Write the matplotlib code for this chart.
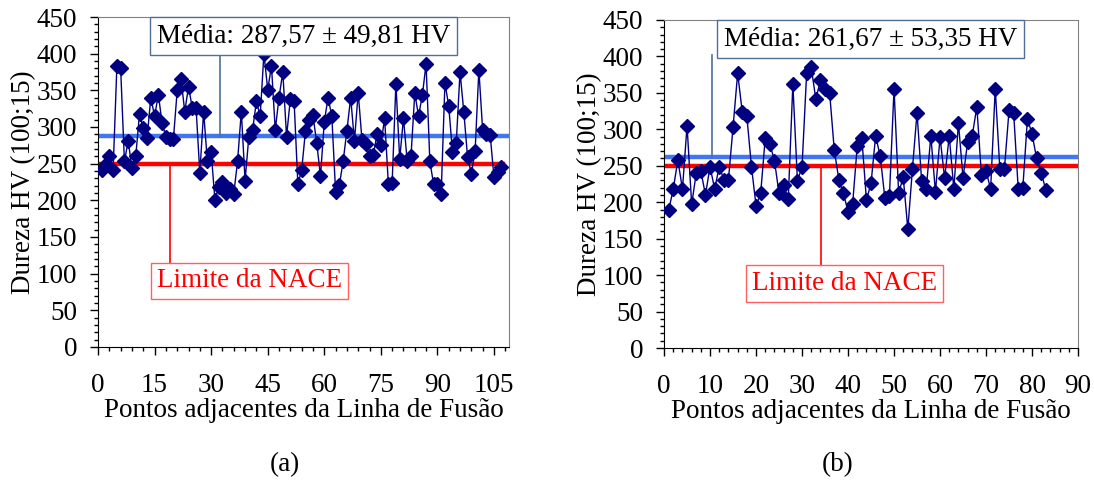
import matplotlib
matplotlib.use("Agg")
import matplotlib.pyplot as plt
from matplotlib.ticker import MultipleLocator

plt.rcParams["font.family"] = ["Liberation Serif", "DejaVu Serif"]

# Panel (a) hardness readings, points 1..107
hv_a = [241, 250, 260, 241, 383, 380, 253, 281, 244, 260,
        318, 298, 285, 340, 315, 344, 305, 287, 284, 284,
        350, 366, 321, 355, 326, 326, 237, 321, 253, 266,
        201, 218, 225, 210, 216, 209, 253, 321, 227, 287,
        296, 335, 315, 400, 351, 383, 296, 340, 375, 287,
        338, 335, 222, 241, 294, 310, 316, 278, 233, 307,
        340, 315, 212, 221, 253, 295, 340, 281, 347, 282,
        277, 260, 262, 290, 275, 312, 222, 224, 359, 256,
        312, 253, 260, 346, 315, 343, 386, 253, 222, 222,
        209, 360, 329, 266, 278, 375, 321, 259, 236, 267,
        378, 296, 290, 289, 232, 239, 245]

# Panel (b) hardness readings, points 1..83
hv_b = [189, 218, 258, 218, 305, 197, 240, 243, 210, 249,
        218, 249, 231, 231, 303, 377, 324, 318, 249, 195,
        212, 288, 280, 257, 212, 224, 204, 362, 229, 249,
        377, 385, 341, 368, 355, 350, 272, 231, 212, 187,
        198, 277, 288, 203, 226, 291, 263, 206, 209, 356,
        213, 234, 163, 246, 323, 229, 218, 291, 214, 289,
        233, 291, 218, 309, 233, 283, 291, 331, 237, 243,
        218, 356, 246, 246, 326, 323, 218, 220, 314, 294,
        260, 240, 217]

mean_a, sd_a = 287.57, 49.81
mean_b, sd_b = 261.67, 53.35
nace_limit = 250

fig = plt.figure(figsize=(10.94, 4.83), dpi=100)
ax_a = fig.add_axes([0.0896, 0.2816, 0.3757, 0.6832])
ax_b = fig.add_axes([0.6070, 0.2795, 0.3784, 0.6791])

fs = 19.5
navy = "#000080"
blue = "#4275f0"
box_edge = "#4f6f99"


def draw_panel(ax, hv, mean, sd, xmax, xmajor, xminor, red_end,
               media_xy, media_link_x, media_link_top,
               nace_xy, nace_link_x, nace_link_bottom):
    x = list(range(1, len(hv) + 1))
    ax.plot(x, hv, color=navy, lw=1, marker="D", ms=7, zorder=3)
    ax.plot([0, xmax], [mean, mean], color=blue, lw=3.2, zorder=2)
    ax.plot([0, red_end], [nace_limit, nace_limit], color="#ff0000", lw=3.2, zorder=2)

    # connectors to the call-out boxes
    ax.plot([media_link_x, media_link_x], [mean, media_link_top], color=box_edge, lw=1.2, zorder=2)
    ax.plot([nace_link_x, nace_link_x], [nace_limit, nace_link_bottom], color="#ff0000", lw=1.2, zorder=2)

    label = "Média: %s ± %s HV" % (f"{mean:.2f}".replace(".", ","), f"{sd:.2f}".replace(".", ","))
    ax.text(media_xy[0], media_xy[1], label, ha="center", va="center", fontsize=fs, zorder=5,
            bbox=dict(boxstyle="square,pad=0.25", fc="white", ec=box_edge, lw=1))
    ax.text(nace_xy[0], nace_xy[1], "Limite da NACE", ha="center", va="center",
            fontsize=fs, color="#ff0000", zorder=5,
            bbox=dict(boxstyle="square,pad=0.22", fc="white", ec="#ff6060", lw=1))

    ax.set_xlim(0, xmax)
    ax.set_ylim(0, 450)
    ax.xaxis.set_major_locator(MultipleLocator(xmajor))
    ax.xaxis.set_minor_locator(MultipleLocator(xminor))
    ax.yaxis.set_major_locator(MultipleLocator(50))
    ax.yaxis.set_minor_locator(MultipleLocator(10))
    ax.tick_params(which="major", direction="out", length=6, width=1, labelsize=fs)
    ax.tick_params(which="minor", direction="out", length=3, width=1)
    ax.tick_params(axis="x", which="major", pad=13)
    ax.tick_params(axis="y", which="major", pad=9)
    for s in ("top", "right"):
        ax.spines[s].set_color("#808080")
    ax.set_xlabel("Pontos adjacentes da Linha de Fusão", fontsize=fs, labelpad=0)
    ax.set_ylabel("Dureza HV (100;15)", fontsize=fs, labelpad=0)


draw_panel(ax_a, hv_a, mean_a, sd_a, 109, 15, 3, 107.5,
           (54.5, 424), 32.3, 398, (40.2, 90), 19, 112)
draw_panel(ax_b, hv_b, mean_b, sd_b, 90, 10, 2, 90,
           (44.9, 424), 10.4, 402, (39.2, 88), 34.1, 110)

fig.text(285 / 1094, 1 - 465 / 483, "(a)", ha="center", va="center", fontsize=fs)
fig.text(838 / 1094, 1 - 465 / 483, "(b)", ha="center", va="center", fontsize=fs)

fig.savefig("out.png", dpi=100)
